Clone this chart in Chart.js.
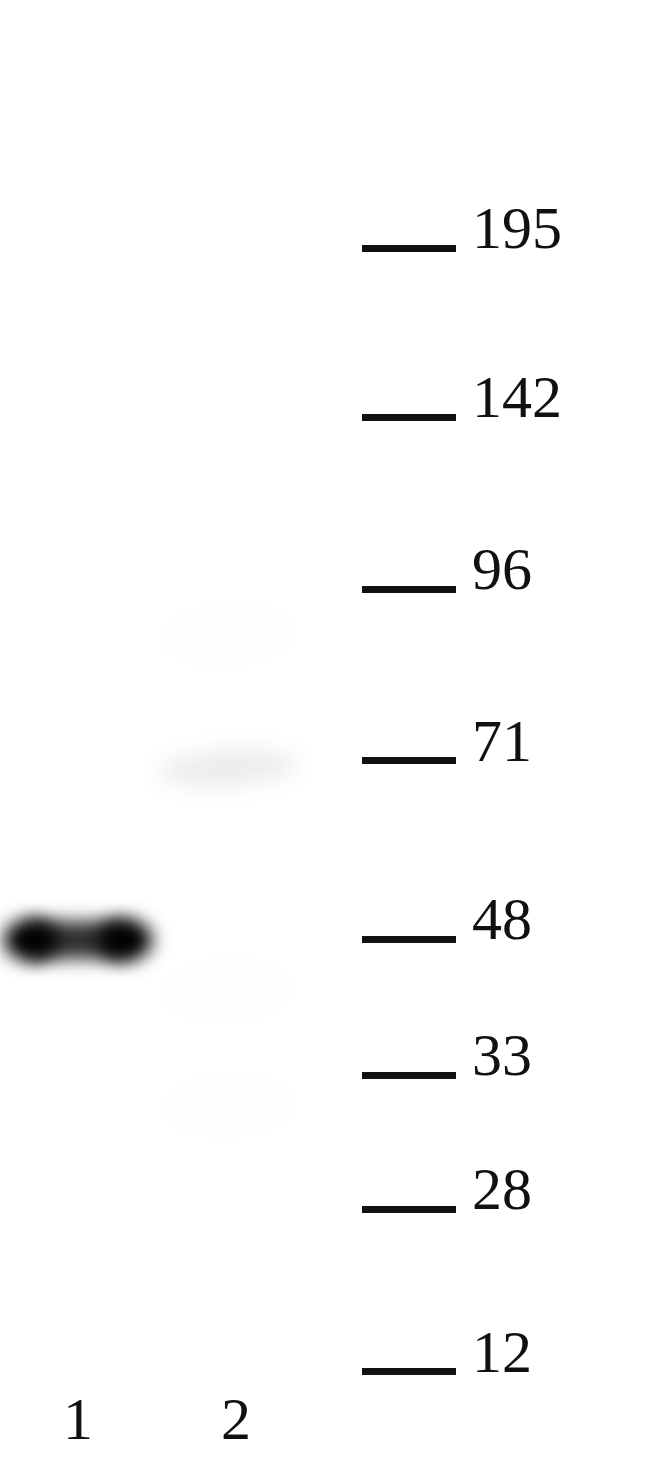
<!DOCTYPE html>
<html>
<head>
<meta charset="utf-8">
<script src="https://cdn.jsdelivr.net/npm/chart.js@4.4.1/dist/chart.umd.min.js"></script>
<style>
  html, body { margin: 0; padding: 0; background: #fff; }
  #wrap { width: 650px; height: 1466px; position: relative; }
</style>
</head>
<body>
<div id="wrap"><canvas id="blot"></canvas></div>
<script>
    "use strict";

    // Lanes
    var laneLabels = ["1", "2"];
    var laneValues = [1, 2];

    // Marker ladder (kDa) and migration distance from the top of the gel (mm x 10)
    var markerWeights = ["195", "142", "96", "71", "48", "33", "28", "12"];
    var markerPositions = [24.8, 41.7, 58.9, 76.1, 93.9, 107.5, 120.9, 137.2];

    // Bands seen on the blot: lane, migration distance, relative intensity
    var bandLanes = [1, 2, 2, 2, 2];
    var bandPositions = [94.0, 76.8, 63.5, 99.0, 110.5];
    var bandIntensities = [1.0, 0.08, 0.004, 0.004, 0.004];

    var serif = "'Liberation Serif', 'Times New Roman', serif";

    // draws each band as a blurred smear at the point the scales give us
    var bandPlugin = {
        id: 'bands',
        afterDatasetsDraw: function (chart) {
            var ctx = chart.ctx;
            var xs = chart.scales.x;
            var meta = chart.getDatasetMeta(0);
            var laneW = Math.abs(xs.getPixelForValue(2) - xs.getPixelForValue(1));
            meta.data.forEach(function (pt, i) {
                var val = bandIntensities[i];
                var w = laneW * 0.88;
                ctx.save();
                ctx.beginPath();
                ctx.rect(chart.chartArea.left, chart.chartArea.top,
                    chart.chartArea.right - chart.chartArea.left,
                    chart.chartArea.bottom - chart.chartArea.top);
                ctx.clip();
                if (val > 0.5) {
                    // strong band: dark ends, greyer middle
                    w = laneW * 0.94;
                    ctx.filter = 'blur(9px)';
                    ctx.fillStyle = 'rgba(10,10,10,0.85)';
                    ctx.fillRect(pt.x - w / 2 + 26, pt.y - 19, w - 52, 38);
                    ctx.fillStyle = 'rgba(0,0,0,' + val + ')';
                    [-1, 1].forEach(function (s) {
                        ctx.beginPath();
                        ctx.ellipse(pt.x + s * (w / 2 - 27), pt.y, 27, 21, 0, 0, Math.PI * 2);
                        ctx.fill();
                    });
                } else {
                    var faint = val < 0.05;
                    ctx.filter = faint ? 'blur(14px)' : 'blur(11px)';
                    ctx.fillStyle = 'rgba(0,0,0,' + val + ')';
                    ctx.beginPath();
                    ctx.ellipse(pt.x - 8, pt.y, w / 2, faint ? 34 : 17, -0.06, 0, Math.PI * 2);
                    ctx.fill();
                }
                ctx.restore();
            });
        }
    };

    var ctx = document.getElementById('blot').getContext('2d');
    var blot = new Chart(ctx, {
        type: 'scatter',
        data: {
            datasets: [{
                label: 'bands',
                data: bandLanes.map(function (l, i) { return {x: l, y: bandPositions[i]}; }),
                pointRadius: 0,
                pointHoverRadius: 0
            }]
        },
        options: {
            responsive: true,
            maintainAspectRatio: false,
            animation: false,
            layout: { padding: 0 },
            plugins: {
                legend: { display: false },
                tooltip: { enabled: false }
            },
            scales: {
                x: {
                    type: 'linear',
                    position: 'bottom',
                    min: 0.506,
                    max: 2.797,
                    afterBuildTicks: function (axis) {
                        axis.ticks = laneValues.map(function (v) { return {value: v}; });
                    },
                    afterFit: function (axis) {
                        axis.height = 81;
                        axis.paddingLeft = 0;
                        axis.paddingRight = 0;
                    },
                    ticks: {
                        autoSkip: false,
                        maxRotation: 0,
                        padding: 2,
                        color: '#111',
                        font: { family: serif, size: 60 },
                        callback: function (v) { return laneLabels[laneValues.indexOf(v)]; }
                    },
                    grid: { display: false, drawTicks: false },
                    border: { display: false }
                },
                y: {
                    type: 'linear',
                    position: 'right',
                    reverse: true,
                    min: 0,
                    max: 138.5,
                    afterBuildTicks: function (axis) {
                        axis.ticks = markerPositions.map(function (v) { return {value: v}; });
                    },
                    afterFit: function (axis) {
                        axis.width = 288;
                        axis.paddingTop = 0;
                        axis.paddingBottom = 0;
                    },
                    ticks: {
                        autoSkip: false,
                        padding: 16,
                        labelOffset: -16,
                        color: '#111',
                        font: { family: serif, size: 60 },
                        callback: function (v) { return markerWeights[markerPositions.indexOf(v)]; }
                    },
                    grid: {
                        drawOnChartArea: false,
                        drawTicks: true,
                        tickLength: 94,
                        tickWidth: 7,
                        tickColor: '#111'
                    },
                    border: { display: false }
                }
            }
        },
        plugins: [bandPlugin]
    });
</script>
</body>
</html>
